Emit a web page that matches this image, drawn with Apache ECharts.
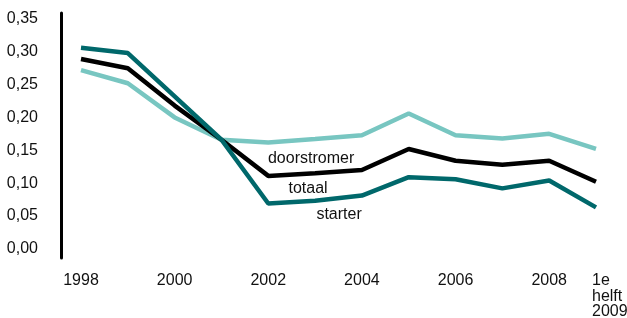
<!DOCTYPE html>
<html>
<head>
<meta charset="utf-8">
<script src="https://cdn.jsdelivr.net/npm/echarts@6/dist/echarts.min.js"></script>
<style>
  html, body { margin: 0; padding: 0; background: #fff; }
  #chart { width: 627px; height: 318px; }
</style>
</head>
<body>
<div id="chart"></div>
<script>
// categorieen (jaren)
const years = ['1998', '1999', '2000', '2001', '2002', '2003', '2004', '2005', '2006', '2007', '2008', '1e\nhelft\n2009'];
// waarden
const starter     = [0.306, 0.298, 0.232, 0.166, 0.069, 0.073, 0.081, 0.109, 0.106, 0.092, 0.104, 0.063];
const totaal      = [0.289, 0.275, 0.218, 0.166, 0.111, 0.115, 0.120, 0.152, 0.134, 0.128, 0.134, 0.102];
const doorstromer = [0.272, 0.252, 0.200, 0.166, 0.162, 0.167, 0.173, 0.206, 0.173, 0.168, 0.175, 0.152];
const yTicks = [0, 0.05, 0.10, 0.15, 0.20, 0.25, 0.30, 0.35];

const font = 'Liberation Sans, Arial, sans-serif';
const fs = 16;
const myChart = echarts.init(document.getElementById('chart'));

// naam bij de lijn zetten (markPoint zonder symbool)
function nameLabel(name, idx, vals, dx, dy) {
  return {
    symbol: 'circle',
    symbolSize: 0,
    silent: true,
    data: [{
      coord: [idx, vals[idx]],
      label: {
        show: true,
        position: 'inside',
        offset: [dx, dy],
        formatter: name,
        color: '#111',
        fontSize: fs,
        fontFamily: font
      }
    }]
  };
}

function lineSeries(name, data, color, z) {
  return {
    name: name,
    type: 'line',
    data: data,
    symbol: 'none',
    z: z,
    lineStyle: { color: color, width: 4.5 },
    animation: false
  };
}

const s1 = lineSeries('doorstromer', doorstromer, '#78c6c1', 2);
s1.markPoint = nameLabel('doorstromer', 5, doorstromer, -4, 19);
const s2 = lineSeries('totaal', totaal, '#000000', 3);
s2.markPoint = nameLabel('totaal', 5, totaal, -7, 15);
const s3 = lineSeries('starter', starter, '#00686b', 4);
s3.markPoint = nameLabel('starter', 5, starter, 24, 14);

myChart.setOption({
  animation: false,
  grid: { left: 81, right: 31, top: 13, bottom: 60, outerBoundsMode: 'none' },
  xAxis: {
    type: 'category',
    boundaryGap: false,
    data: years,
    axisLine: { show: false },
    axisTick: { show: false },
    splitLine: { show: false },
    axisLabel: {
      interval: function (i) { return i % 2 === 0 || i === years.length - 1; },
      color: '#111',
      fontSize: fs,
      fontFamily: font,
      margin: 15,
      lineHeight: 15.5,
      formatter: function (v) {
        if (v.indexOf('\n') < 0) return v;
        return v.split('\n').map(function (t) { return '{last|' + t + '}'; }).join('\n');
      },
      rich: {
        last: {
          width: 33,
          align: 'left',
          padding: [0, 0, 0, 25],
          fontSize: fs,
          fontFamily: font,
          color: '#111',
          lineHeight: 15.5
        }
      }
    }
  },
  yAxis: {
    type: 'value',
    min: -0.014,
    max: 0.359,
    offset: 20,
    axisLine: { show: true, lineStyle: { color: '#000', width: 3 } },
    axisTick: { show: false },
    splitLine: { show: false },
    axisLabel: {
      customValues: yTicks,
      color: '#111',
      fontSize: fs,
      fontFamily: font,
      margin: 23,
      formatter: function (v) { return v.toFixed(2).replace('.', ','); }
    }
  },
  series: [s1, s2, s3]
});
</script>
</body>
</html>
